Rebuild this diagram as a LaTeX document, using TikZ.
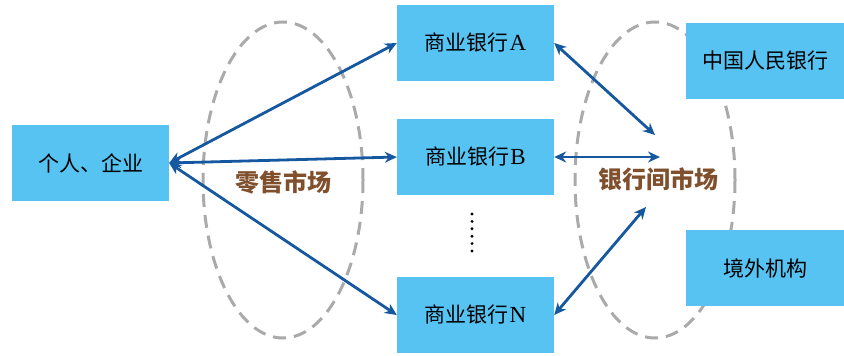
\documentclass[tikz,border=0pt]{standalone}
\usepackage{fontspec}
\setmainfont{Liberation Serif}
\newfontfamily\cjk{Noto Sans CJK SC}
\usetikzlibrary{arrows.meta}
\definecolor{boxblue}{RGB}{86,195,242}
\definecolor{arrblue}{RGB}{22,88,160}
\definecolor{ellgray}{RGB}{170,170,170}
\definecolor{lblbrown}{RGB}{128,80,45}
\tikzset{
  box/.style={fill=boxblue, draw=none, minimum width=157pt, minimum height=76pt, inner sep=0pt, font=\fontsize{21}{23}\selectfont},
  link/.style={draw=arrblue, line width=2.8pt, {Stealth[length=12pt,width=11pt]}-{Stealth[length=12pt,width=11pt]}},
  ring/.style={draw=ellgray, line width=3pt, dash pattern=on 13pt off 8pt},
  mkt/.style={text=lblbrown, font=\fontsize{24}{26}\selectfont\cjk\bfseries}
}
\begin{document}
\begin{tikzpicture}[x=1pt,y=-1pt]
\useasboundingbox (0,0) rectangle (844,356);
% ellipses
\draw[ring] (283,180) ellipse [x radius=80, y radius=158];
\draw[ring] (655,180) ellipse [x radius=80, y radius=158];
% boxes
\node[box] (L) at (90.5,163) {\cjk 个人、企业};
\node[box] (A) at (475.5,43) {{\cjk 商业银行}\kern1pt{\fontsize{23}{25}\selectfont A}};
\node[box] (B) at (475.5,157) {{\cjk 商业银行}\kern1pt{\fontsize{23}{25}\selectfont B}};
\node[box] (N) at (475.5,315) {{\cjk 商业银行}\kern1pt{\fontsize{23}{25}\selectfont N}};
\node[box, minimum width=158pt] (P) at (765,61) {\cjk 中国人民银行};
\node[box, minimum width=158pt] (F) at (765,268) {\cjk 境外机构};
% labels
\node[mkt] (r) at (283,182) {零售市场};
\node[mkt] (i) at (658,179) {银行间市场};
% dots
\coordinate (d1) at (472,214);
\coordinate (d2) at (472,252);
\draw[line width=3.2pt, line cap=round, dash pattern=on 0pt off 7.4pt] (d1) -- (d2);
% market points
\coordinate (m1) at (655,135);
\coordinate (m2) at (660,157);
\coordinate (m3) at (646,207);
% connectors
\draw[link] (L.east) -- (A.west);
\draw[link] (L.east) -- (B.west);
\draw[link] (L.east) -- (N.west);
\draw[link] (A.east) -- (m1);
\draw[link] (B.east) -- (m2);
\draw[link] (N.east) -- (m3);
\end{tikzpicture}
\end{document}
